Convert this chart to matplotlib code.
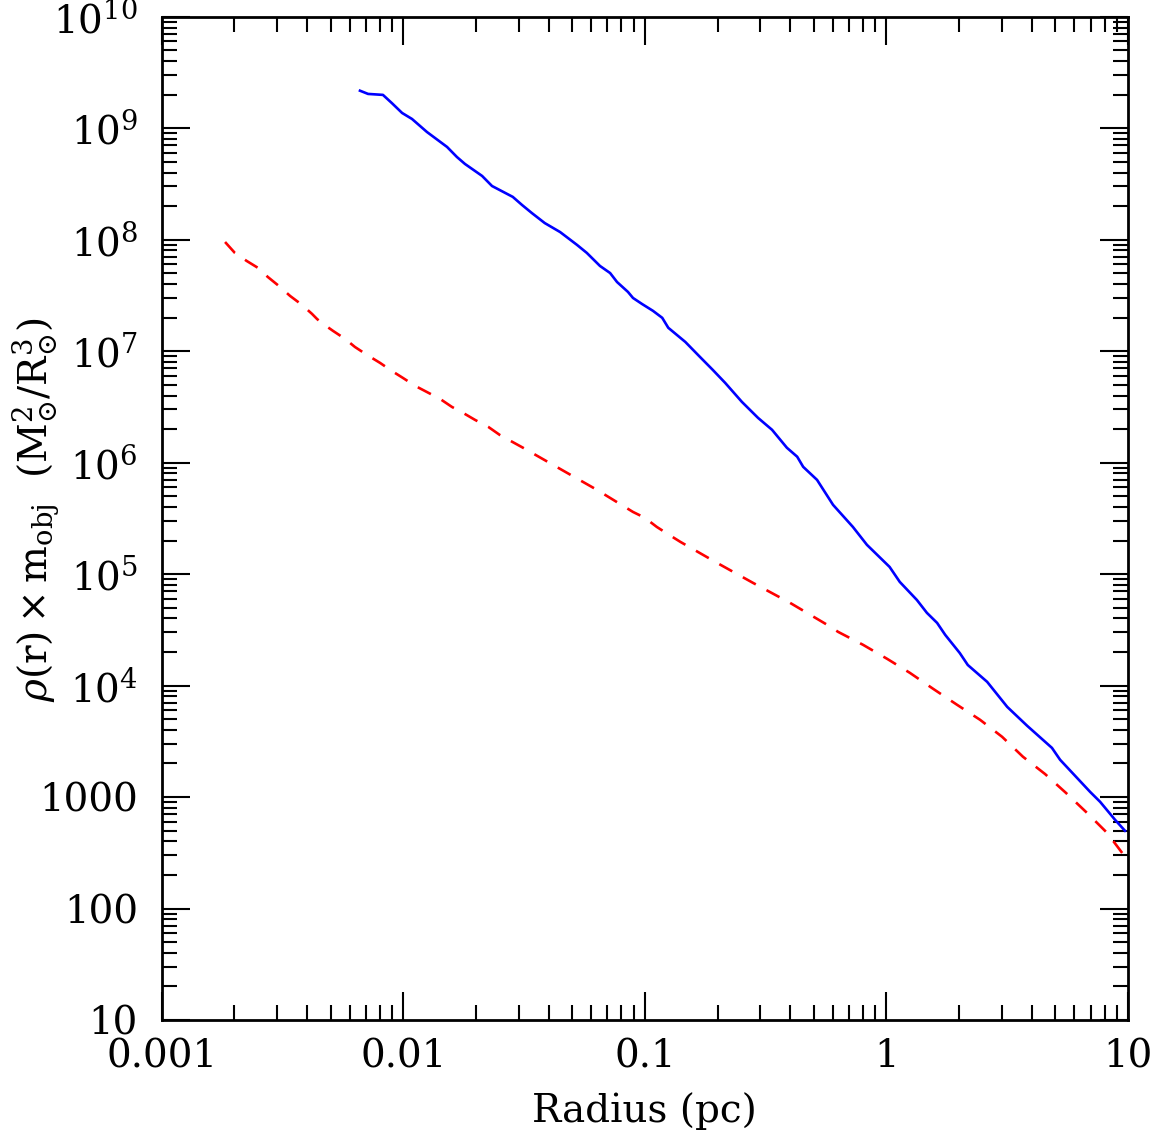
import matplotlib
matplotlib.use('Agg')
import matplotlib.pyplot as plt
from matplotlib.ticker import FixedLocator, FixedFormatter, LogLocator, NullFormatter

# blue solid curve
r_blue = [0.00662, 0.00715, 0.00824, 0.00897, 0.00989, 0.01087, 0.01253, 0.01518,
          0.01667, 0.0180, 0.0212, 0.0233, 0.0284, 0.0310, 0.0341, 0.0385, 0.0446,
          0.0524, 0.0575, 0.0652, 0.0718, 0.0767, 0.0851, 0.0893, 0.0973, 0.108,
          0.118, 0.125, 0.147, 0.169, 0.191, 0.215, 0.252, 0.294, 0.336, 0.387,
          0.427, 0.452, 0.516, 0.601, 0.726, 0.830, 1.03, 1.135, 1.336, 1.47, 1.62,
          1.75, 2.01, 2.17, 2.61, 3.16, 3.82, 4.84, 5.23, 6.97, 7.66, 8.83, 9.71]
rho_blue = [2.17e9, 2.03e9, 1.99e9, 1.68e9, 1.37e9, 1.21e9, 9.25e8, 6.79e8,
            5.52e8, 4.78e8, 3.73e8, 3.03e8, 2.42e8, 2.05e8, 1.73e8, 1.41e8, 1.17e8,
            8.97e7, 7.61e7, 5.81e7, 5.02e7, 4.17e7, 3.40e7, 3.00e7, 2.65e7, 2.30e7,
            1.99e7, 1.62e7, 1.21e7, 8.88e6, 6.79e6, 5.19e6, 3.51e6, 2.52e6, 1.97e6, 1.36e6,
            1.13e6, 9.17e5, 7.00e5, 4.18e5, 2.65e5, 1.83e5, 1.16e5, 8.51e4, 5.86e4, 4.49e4, 3.65e4,
            2.85e4, 1.96e4, 1.53e4, 1.08e4, 6.44e3, 4.36e3, 2.76e3, 2.16e3, 1.11e3, 906, 625, 498]

# red dashed curve
r_red = [0.00183, 0.00201, 0.00225, 0.00251, 0.00275, 0.00309, 0.00340, 0.00381,
         0.00419, 0.00440, 0.00460, 0.00512, 0.00574, 0.00631, 0.00708, 0.00802,
         0.00897, 0.00997, 0.0112, 0.0125, 0.0142, 0.0159, 0.0177, 0.0198, 0.0225,
         0.0251, 0.0313, 0.0446, 0.0634, 0.0893, 0.100, 0.112, 0.124, 0.140, 0.199,
         0.280, 0.399, 0.568, 0.631, 0.800, 1.005, 1.25, 1.56, 1.96, 2.44, 3.01,
         3.67, 4.53, 5.53, 6.76, 8.18, 10.0]
rho_red = [9.53e7, 7.60e7, 6.44e7, 5.57e7, 4.63e7, 3.77e7, 3.13e7, 2.60e7,
           2.16e7, 1.94e7, 1.79e7, 1.52e7, 1.29e7, 1.09e7, 9.25e6, 7.84e6,
           6.64e6, 5.75e6, 4.88e6, 4.31e6, 3.73e6, 3.16e6, 2.79e6, 2.42e6, 2.09e6,
           1.77e6, 1.36e6, 8.78e5, 5.69e5, 3.61e5, 3.20e5, 2.65e5, 2.30e5, 1.95e5, 1.26e5,
           8.35e4, 5.52e4, 3.51e4, 3.03e4, 2.32e4, 1.74e4, 1.30e4, 9.35e3, 6.72e3, 4.93e3, 3.47e3,
           2.30e3, 1.61e3, 1.09e3, 721, 478, 268]

xticks = [0.001, 0.01, 0.1, 1, 10]
xticklabels = ['0.001', '0.01', '0.1', '1', '10']
yticks = [10, 100, 1000, 1e4, 1e5, 1e6, 1e7, 1e8, 1e9, 1e10]
yticklabels = ['10', '100', '1000', r'$\mathregular{10^{4}}$', r'$\mathregular{10^{5}}$',
               r'$\mathregular{10^{6}}$', r'$\mathregular{10^{7}}$', r'$\mathregular{10^{8}}$',
               r'$\mathregular{10^{9}}$', r'$\mathregular{10^{10}}$']

plt.rcParams['font.family'] = 'DejaVu Serif'
plt.rcParams['mathtext.fontset'] = 'dejavuserif'

fig = plt.figure(figsize=(11.53, 11.38), dpi=100)
ax = fig.add_axes([0.1402, 0.1037, 0.8382, 0.8816])

ax.plot(r_blue, rho_blue, color='#0000ff', lw=1.9)
ax.plot(r_red, rho_red, color='#ff0000', lw=1.9, dashes=(5.6, 4.6))

ax.set_xscale('log')
ax.set_yscale('log')
ax.set_xlim(0.001, 10)
ax.set_ylim(10, 1e10)

ax.xaxis.set_major_locator(FixedLocator(xticks))
ax.xaxis.set_major_formatter(FixedFormatter(xticklabels))
ax.yaxis.set_major_locator(FixedLocator(yticks))
ax.yaxis.set_major_formatter(FixedFormatter(yticklabels))
for a in (ax.xaxis, ax.yaxis):
    a.set_minor_locator(LogLocator(base=10, subs=range(2, 10), numticks=20))
    a.set_minor_formatter(NullFormatter())

ax.tick_params(which='both', direction='in', top=True, right=True, width=1.5)
ax.tick_params(which='major', length=20)
ax.tick_params(which='minor', length=11)
ax.tick_params(axis='x', which='major', labelsize=28, pad=13)
ax.tick_params(axis='y', which='major', labelsize=28, pad=17)
for s in ax.spines.values():
    s.set_linewidth(2.0)

ax.set_xlabel('Radius (pc)', fontsize=28, labelpad=12)
fig.text(0.031, 0.552,
         r'$\rho\mathregular{(r)\times m_{obj}}\ \ \mathregular{(M_{\odot}^{2}/R_{\odot}^{3})}$',
         fontsize=28, rotation=90, ha='center', va='center')

fig.savefig('out.png', dpi=100)
